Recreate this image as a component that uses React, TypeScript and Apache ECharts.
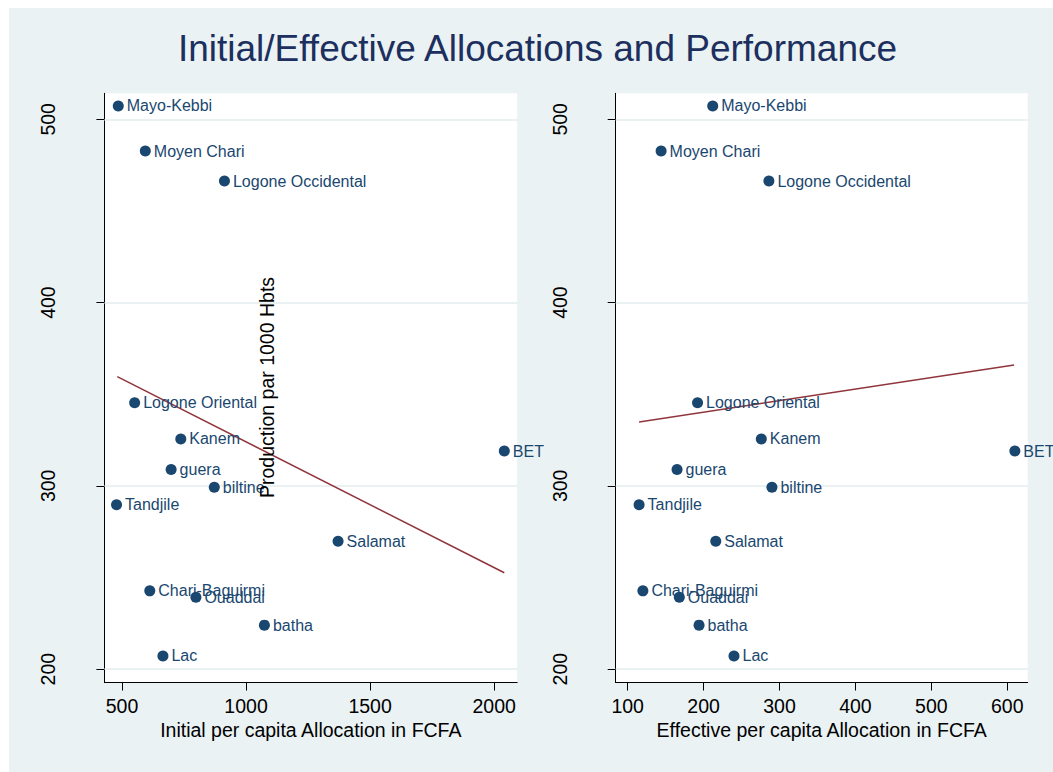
import React, { useEffect, useRef } from "react";
import * as echarts from "echarts";

// ---- data ----
const regions = [
  "Mayo-Kebbi", "Moyen Chari", "Logone Occidental", "Logone Oriental", "Kanem",
  "guera", "biltine", "Tandjile", "BET", "Salamat", "Chari-Baguirmi", "Ouaddai", "batha", "Lac",
];
const production = [507.3, 482.7, 466.3, 345.4, 325.6, 308.9, 299.2, 289.7, 319.0, 269.8, 242.7, 239.2, 224.0, 207.2];
const initialAlloc = [485, 594, 913, 551, 737, 698, 872, 478, 2041, 1371, 612, 798, 1074, 665];
const effectiveAlloc = [212, 144, 286, 192, 276, 165, 290, 115, 610, 216, 120, 168, 194, 240];

const fitInitialX = [481, 2041];
const fitInitialY = [359.6, 252.6];
const fitEffectiveX = [115, 609];
const fitEffectiveY = [334.9, 366.0];

const yTicks = [200, 300, 400, 500];
const xTicksInitial = [500, 1000, 1500, 2000];
const xTicksEffective = [100, 200, 300, 400, 500, 600];

const titleText = "Initial/Effective Allocations and Performance";
const yTitle = "Production par 1000 Hbts";
const xTitleInitial = "Initial per capita Allocation in FCFA";
const xTitleEffective = "Effective per capita Allocation in FCFA";

// ---- layout / style ----
const OX = 9;
const OY = 8;
const W = 1053 - OX;
const H = 772 - OY;
const FONT = "'Liberation Sans', Arial, Helvetica, sans-serif";
const NAVY = "#1A476F";
const MAROON = "#90353B";
const BG = "#EAF2F3";

export default function App() {
  const ref = useRef<HTMLDivElement>(null);

  useEffect(() => {
    if (!ref.current) return;
    const chart = echarts.init(ref.current, null, { renderer: "svg" });

    const grids = [
      { left: 104.4 - OX, top: 93.3 - OY, width: 412.8, height: 589.2 },
      { left: 615.7 - OX, top: 93.3 - OY, width: 412.0, height: 589.2 },
    ];

    const plain = (v: number) => String(v);

    const xAxisCommon = (gridIndex: number, min: number, max: number, ticks: number[], name: string) => ({
      type: "value",
      gridIndex,
      min,
      max,
      name,
      nameLocation: "middle",
      nameGap: 33,
      nameTextStyle: { fontSize: 19.5, color: "#000", fontFamily: FONT },
      axisLine: { show: true, onZero: false, lineStyle: { color: "#000", width: 1 } },
      axisTick: { show: true, customValues: ticks, length: 8, inside: false, lineStyle: { color: "#000", width: 1 } },
      axisLabel: { show: true, customValues: ticks, formatter: plain, margin: 13, fontSize: 19.5, color: "#000", fontFamily: FONT },
      splitLine: { show: false },
    });

    const yAxisCommon = (gridIndex: number) => ({
      type: "value",
      gridIndex,
      min: 192.7,
      max: 514.2,
      axisLine: { show: true, onZero: false, lineStyle: { color: "#000", width: 1 } },
      axisTick: { show: true, customValues: yTicks, length: 8, inside: false, lineStyle: { color: "#000", width: 1 } },
      axisLabel: { show: true, customValues: yTicks, formatter: plain, rotate: 90, margin: 46, fontSize: 19.5, color: "#000", fontFamily: FONT },
      splitLine: { show: false },
    });

    const scatter = (idx: number, xs: number[]) => ({
      type: "scatter",
      xAxisIndex: idx,
      yAxisIndex: idx,
      symbol: "circle",
      symbolSize: 11,
      clip: false,
      itemStyle: { color: NAVY, opacity: 1 },
      label: {
        show: true,
        position: "right",
        distance: 3,
        formatter: "{b}",
        fontSize: 16,
        color: NAVY,
        fontFamily: FONT,
      },
      markLine: {
        silent: true,
        symbol: "none",
        label: { show: false },
        lineStyle: { color: "#E3ECEF", width: 1.5, type: "solid" },
        data: yTicks.map((v) => ({ yAxis: v })),
        z: 1,
      },
      data: regions.map((r, i) => ({ name: r, value: [xs[i], production[i]] })),
      z: 5,
    });

    const fit = (idx: number, xs: number[], ys: number[]) => ({
      type: "line",
      xAxisIndex: idx,
      yAxisIndex: idx,
      showSymbol: false,
      symbol: "none",
      lineStyle: { color: MAROON, width: 1.5 },
      data: xs.map((x, i) => [x, ys[i]]),
      z: 4,
    });

    chart.setOption({
      animation: false,
      backgroundColor: BG,
      textStyle: { fontFamily: FONT },
      grid: grids.map((g) => ({ ...g, show: true, backgroundColor: "#fff", borderWidth: 0, containLabel: false })),
      xAxis: [
        xAxisCommon(0, 429.1, 2093, xTicksInitial, xTitleInitial),
        xAxisCommon(1, 84.2, 626.9, xTicksEffective, xTitleEffective),
      ],
      yAxis: [yAxisCommon(0), yAxisCommon(1)],
      graphic: [
        {
          type: "text",
          x: 537.5 - OX,
          y: 48.9 - OY,
          silent: true,
          style: {
            text: titleText,
            fontSize: 37,
            fontFamily: FONT,
            fill: "#1C2F5E",
            textAlign: "center",
            textVerticalAlign: "middle",
          },
        },
        {
          type: "text",
          x: 266.7 - OX,
          y: 387.5 - OY,
          rotation: Math.PI / 2,
          silent: true,
          z: 10,
          style: {
            text: yTitle,
            fontSize: 19.5,
            fontFamily: FONT,
            fill: "#000",
            textAlign: "center",
            textVerticalAlign: "middle",
          },
        },
      ],
      series: [
        fit(0, fitInitialX, fitInitialY),
        scatter(0, initialAlloc),
        fit(1, fitEffectiveX, fitEffectiveY),
        scatter(1, effectiveAlloc),
      ],
    });

    return () => chart.dispose();
  }, []);

  return (
    <div
      ref={ref}
      style={{ position: "absolute", left: OX, top: OY, width: W, height: H }}
    />
  );
}
